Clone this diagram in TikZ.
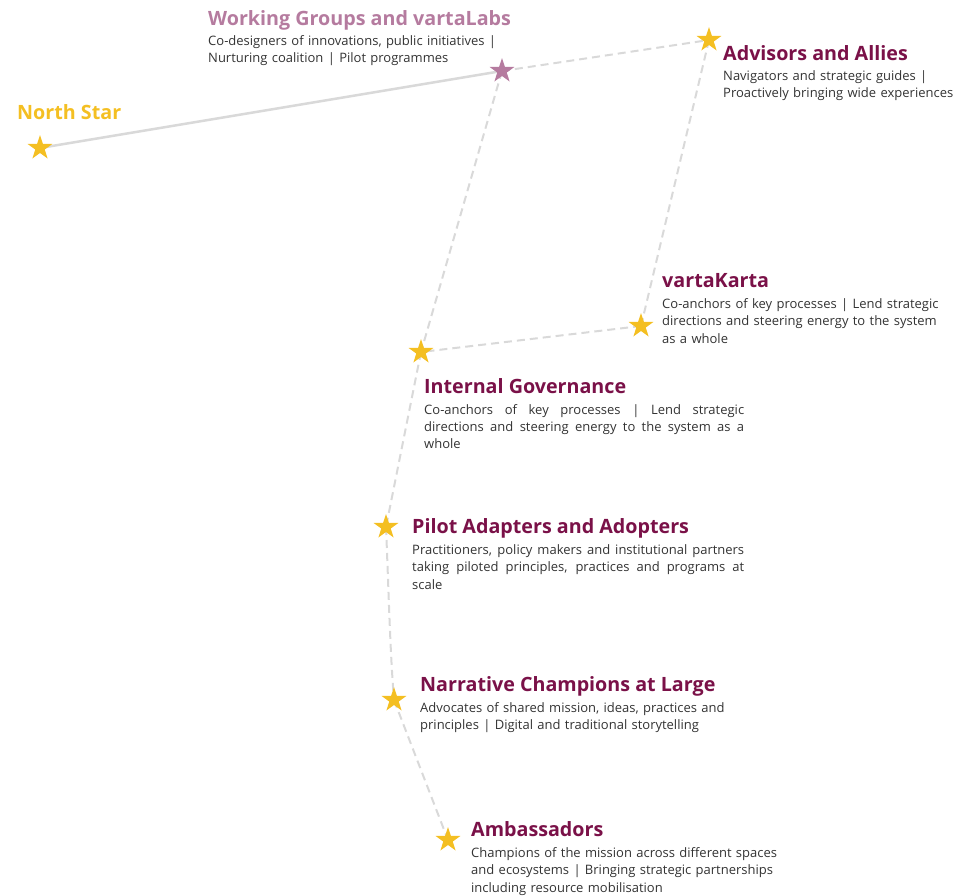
\documentclass[tikz,border=0pt]{standalone}
\usepackage{fontspec}
\setmainfont{Open Sans}
\usetikzlibrary{shapes.geometric,backgrounds}
\definecolor{starY}{HTML}{F4BF22}
\definecolor{maroonT}{HTML}{7A1148}
\definecolor{pinkT}{HTML}{B57B9F}
\definecolor{lineG}{HTML}{D9D9D9}
\definecolor{bodyT}{HTML}{333333}
\newcommand{\jline}[2]{\leavevmode\hbox to #1{\spaceskip=0.26em plus 1fil\relax #2}}
\tikzset{
  starnode/.style={star, star points=5, star point ratio=2.618, minimum size=26pt, inner sep=0pt, fill=starY, draw=none},
  titletext/.style={anchor=base west, inner sep=0pt, font=\fontsize{19.7}{24}\selectfont\bfseries, text=maroonT},
  bodytext/.style={anchor=base west, inner sep=0pt, text width=360pt, align=left, font=\fontsize{13}{17.4}\selectfont, text=bodyT},
  link/.style={draw=lineG, line width=2pt, dash pattern=on 8pt off 5pt},
  solidlink/.style={draw=lineG, line width=2.5pt}
}
\begin{document}
\begin{tikzpicture}[x=1pt,y=-1pt]
\useasboundingbox (0,0) rectangle (970,895);
% stars
\node[starnode] (ns) at (40,148) {};
\node[starnode, fill=pinkT] (wg) at (502,71) {};
\node[starnode] (aa) at (709,40) {};
\node[starnode] (vk) at (641,326) {};
\node[starnode] (ig) at (421,352) {};
\node[starnode] (pa) at (386,527) {};
\node[starnode] (nc) at (394,700) {};
\node[starnode] (am) at (448,840) {};
% connectors
\begin{scope}[on background layer]
\draw[solidlink] (ns.center) -- (wg.center);
\draw[link] (wg.center) -- (aa.center);
\draw[link] (wg.center) -- (ig.center);
\draw[link] (aa.center) -- (vk.center);
\draw[link] (vk.center) -- (ig.center);
\draw[link] (ig.center) -- (pa.center);
\draw[link] (pa.center) .. controls (389,600) and (390,650) .. (nc.center);
\draw[link] (nc.center) -- (am.center);
\end{scope}
% labels
\node[titletext, text=starY] (tns) at (17,119) {North Star};

\node[titletext, text=pinkT] (twg) at (208,25) {Working Groups and vartaLabs};
\node[bodytext] (bwg) at (208,45) {Co-designers of innovations, public initiatives |\\Nurturing coalition | Pilot programmes};

\node[titletext] (taa) at (723,60) {Advisors and Allies};
\node[bodytext] (baa) at (723,80.5) {Navigators and strategic guides |\\Proactively bringing wide experiences};

\node[titletext] (tvk) at (662,287) {vartaKarta};
\node[bodytext] (bvk) at (662,308.5) {Co-anchors of key processes | Lend strategic\\directions and steering energy to the system\\as a whole};

\node[titletext] (tig) at (424,393) {Internal Governance};
\node[bodytext] (big) at (424,414) {\jline{320pt}{Co-anchors of key processes | Lend strategic}\\\jline{320pt}{directions and steering energy to the system as a}\\whole};

\node[titletext] (tpa) at (412,533) {Pilot Adapters and Adopters};
\node[bodytext] (bpa) at (412,554.5) {\jline{332pt}{Practitioners, policy makers and institutional partners}\\\jline{332pt}{taking piloted principles, practices and programs at}\\scale};

\node[titletext] (tnc) at (420,691.5) {Narrative Champions at Large};
\node[bodytext] (bnc) at (420,712) {Advocates of shared mission, ideas, practices and\\principles | Digital and traditional storytelling};

\node[titletext] (tam) at (471,836) {Ambassadors};
\node[bodytext] (bam) at (471,857.5) {Champions of the mission across different spaces\\and ecosystems | Bringing strategic partnerships\\including resource mobilisation};
\end{tikzpicture}
\end{document}
